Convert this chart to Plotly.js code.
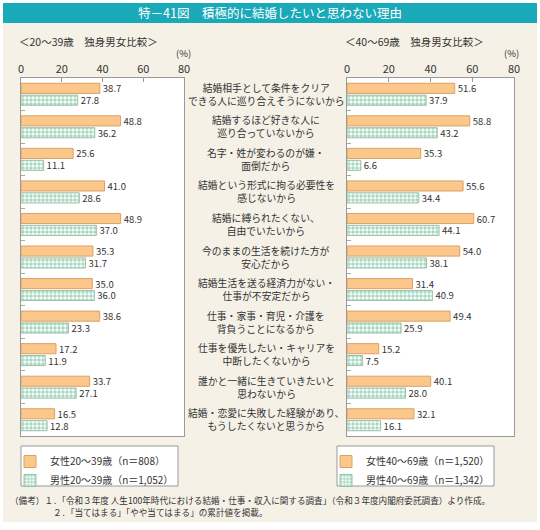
<!DOCTYPE html>
<html>
<head>
<meta charset="utf-8">
<script src="https://cdn.plot.ly/plotly-3.0.1.min.js"></script>
<style>
  html, body { margin: 0; padding: 0; background: #fff; }
  #chart { width: 540px; height: 530px; }
</style>
</head>
<body>
<div id="chart"></div>
<script>
// reasons, top to bottom
const reasons = [
  '結婚相手として条件をクリア<br>できる人に巡り合えそうにないから',
  '結婚するほど好きな人に<br>巡り合っていないから',
  '名字・姓が変わるのが嫌・<br>面倒だから',
  '結婚という形式に拘る必要性を<br>感じないから',
  '結婚に縛られたくない、<br>自由でいたいから',
  '今のままの生活を続けた方が<br>安心だから',
  '結婚生活を送る経済力がない・<br>仕事が不安定だから',
  '仕事・家事・育児・介護を<br>背負うことになるから',
  '仕事を優先したい・キャリアを<br>中断したくないから',
  '誰かと一緒に生きていきたいと<br>思わないから',
  '結婚・恋愛に失敗した経験があり、<br>もうしたくないと思うから'
];
const female2039 = [38.7, 48.8, 25.6, 41.0, 48.9, 35.3, 35.0, 38.6, 17.2, 33.7, 16.5];
const male2039   = [27.8, 36.2, 11.1, 28.6, 37.0, 31.7, 36.0, 23.3, 11.9, 27.1, 12.8];
const female4069 = [51.6, 58.8, 35.3, 55.6, 60.7, 54.0, 31.4, 49.4, 15.2, 40.1, 32.1];
const male4069   = [37.9, 43.2, 6.6, 34.4, 44.1, 38.1, 40.9, 25.9, 7.5, 28.0, 16.1];
const xTicks = [0, 20, 40, 60, 80];
const names = {
  f1: '女性20～39歳（n＝808）',
  m1: '男性20～39歳（n＝1,052）',
  f2: '女性40～69歳（n＝1,520）',
  m2: '男性40～69歳（n＝1,342）'
};

const FONT = '"Noto Sans CJK JP", "Noto Sans", sans-serif';
const orange = { color: '#fcc78b', line: { color: '#d9a266', width: 1 } };
const checker = {
  color: '#ffffff',
  line: { color: '#9bbfae', width: 1 },
  pattern: { shape: '.', fgcolor: '#a9d9bf', bgcolor: '#ffffff', size: 4, solidity: 0.6 }
};

function barTrace(x, name, marker, xa, ya, legend) {
  return {
    type: 'bar', orientation: 'h',
    x: x, y: reasons, name: name,
    xaxis: xa, yaxis: ya, legend: legend,
    marker: marker,
    text: x.map(v => v.toFixed(1)),
    textposition: 'outside',
    constraintext: 'none',
    cliponaxis: false,
    textfont: { size: 9.5, color: '#333', family: FONT },
    hoverinfo: 'skip'
  };
}

const data = [
  barTrace(female2039, names.f1, orange, 'x', 'y', 'legend'),
  barTrace(male2039, names.m1, checker, 'x', 'y', 'legend'),
  barTrace(female4069, names.f2, orange, 'x2', 'y2', 'legend2'),
  barTrace(male4069, names.m2, checker, 'x2', 'y2', 'legend2')
];

const xBase = {
  range: [0, 80], side: 'top', tickvals: xTicks,
  ticks: 'inside', ticklen: 4, tickcolor: '#999',
  showgrid: false, zeroline: false,
  showline: true, mirror: true, linecolor: '#999', linewidth: 1,
  tickfont: { size: 11, color: '#333', family: FONT }
};
const yBase = {
  type: 'category', autorange: 'reversed',
  showticklabels: false, tickson: 'boundaries',
  ticks: 'inside', ticklen: 4, tickcolor: '#aaa',
  showgrid: false, zeroline: false,
  showline: true, mirror: true, linecolor: '#999', linewidth: 1
};
const yDom = [1 - 436 / 530, 1 - 78 / 530];

const annotations = reasons.map((r, i) => ({
  text: r, x: 266 / 540, xref: 'paper', y: i, yref: 'y',
  xanchor: 'center', yanchor: 'middle', align: 'center', showarrow: false,
  font: { size: 9.8, color: '#333', family: FONT }
}));
function paperText(text, x, y, size, extra) {
  return Object.assign({
    text: text, x: x / 540, y: 1 - y / 530, xref: 'paper', yref: 'paper',
    xanchor: 'left', yanchor: 'middle', showarrow: false,
    font: { size: size, color: '#333', family: FONT }
  }, extra || {});
}
annotations.push(
  paperText('特－41図　積極的に結婚したいと思わない理由', 270, 13, 12.5,
    { xanchor: 'center', font: { size: 12.5, color: '#fff', family: FONT } }),
  paperText('＜20～39歳　独身男女比較＞', 17, 42, 10.5),
  paperText('＜40～69歳　独身男女比較＞', 343, 42, 10.5),
  paperText('(%)', 183, 53, 9.5, { xanchor: 'center' }),
  paperText('(%)', 511, 53, 9.5, { xanchor: 'center' }),
  paperText('（備考）１．「令和３年度 人生100年時代における結婚・仕事・収入に関する調査」（令和３年度内閣府委託調査）より作成。', 8, 500, 8.6),
  paperText('２．「当てはまる」「やや当てはまる」の累計値を掲載。', 51, 512, 8.6)
);

function pRect(x0, y0, x1, y1, fill, line) {
  return { type: 'rect', xref: 'paper', yref: 'paper', layer: 'below',
    x0: x0 / 540, x1: x1 / 540, y0: 1 - y1 / 530, y1: 1 - y0 / 530,
    fillcolor: fill, line: line || { width: 0 } };
}
const shapes = [
  pRect(3, 3, 537, 23, '#1aa9b9'),
  pRect(0, 522, 540, 530, '#ffffff'),
  pRect(0, 0, 3, 530, '#ffffff'),
  pRect(537, 0, 540, 530, '#ffffff'),
  pRect(0, 0, 540, 3, '#ffffff'),
  // legend frames
  pRect(21, 446, 178, 486, '#ffffff', { color: '#999', width: 1 }),
  pRect(337, 446, 494, 486, '#ffffff', { color: '#999', width: 1 })
];

const legendBase = {
  xanchor: 'left', yanchor: 'top',
  bgcolor: 'rgba(0,0,0,0)', borderwidth: 0,
  font: { size: 10, color: '#333', family: FONT },
  tracegroupgap: 0, itemwidth: 30
};

const layout = {
  width: 540, height: 530,
  margin: { t: 0, b: 0, l: 0, r: 0, autoexpand: false },
  paper_bgcolor: '#f5f1e7',
  plot_bgcolor: '#ffffff',
  font: { family: FONT },
  barmode: 'group', bargap: 0.27, bargroupgap: 0.15,
  xaxis: Object.assign({}, xBase, { domain: [21 / 540, 184 / 540], anchor: 'y' }),
  yaxis: Object.assign({}, yBase, { domain: yDom, anchor: 'x' }),
  xaxis2: Object.assign({}, xBase, { domain: [347 / 540, 514 / 540], anchor: 'y2' }),
  yaxis2: Object.assign({}, yBase, { domain: yDom, anchor: 'x2' }),
  legend: Object.assign({}, legendBase, { x: 10 / 540, y: 1 - 447 / 530 }),
  legend2: Object.assign({}, legendBase, { x: 326 / 540, y: 1 - 447 / 530 }),
  annotations: annotations,
  shapes: shapes
};

Plotly.newPlot('chart', data, layout, { displayModeBar: false, responsive: false });
</script>
</body>
</html>
